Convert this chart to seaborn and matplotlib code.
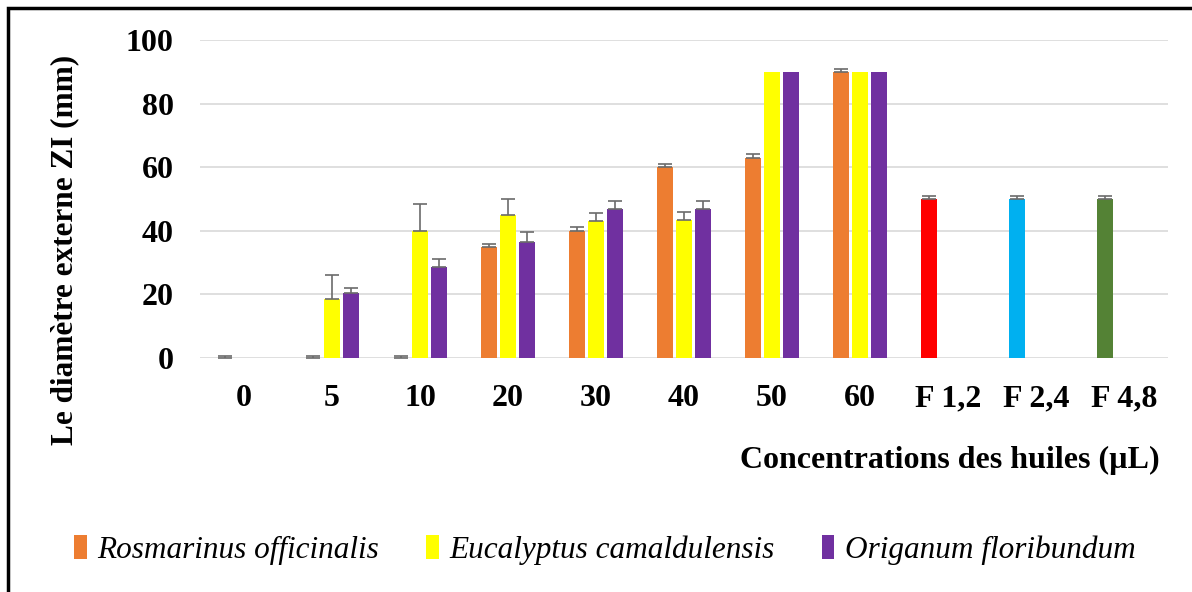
import numpy as np
import pandas as pd
import matplotlib
matplotlib.use('Agg')
import matplotlib.pyplot as plt
import seaborn as sns

# data
categories = ['0', '5', '10', '20', '30', '40', '50', '60', 'F 1,2', 'F 2,4', 'F 4,8']
concentrations = ['0', '5', '10', '20', '30', '40', '50', '60']
oils = ['Rosmarinus officinalis', 'Eucalyptus camaldulensis', 'Origanum floribundum']
rosmarinus = [0, 0, 0, 35, 40, 60, 63, 90]
rosmarinus_err = [0.6, 0.6, 0.6, 1, 1.1, 1, 1.1, 1]
eucalyptus = [0, 18.5, 40, 45, 43, 43.3, 90, 90]
eucalyptus_err = [0, 7.5, 8.4, 5, 2.7, 2.6, 0, 0]
origanum = [0, 20.3, 28.5, 36.6, 46.7, 46.7, 90, 90]
origanum_err = [0, 1.6, 2.6, 3, 2.6, 2.6, 0, 0]
controls = ['F 1,2', 'F 2,4', 'F 4,8']
control_vals = [50, 50, 50]
control_err = [1, 1, 1]

oil_colors = ['#ED7D31', '#FFFF00', '#7030A0']
control_colors = ['#FF0000', '#00B0F0', '#548235']

# long table, controls share the first slot like in the original excel chart
rows = []
for oil, vals, errs in zip(oils, [rosmarinus, eucalyptus, origanum],
                           [rosmarinus_err, eucalyptus_err, origanum_err]):
    for c, v, e in zip(concentrations, vals, errs):
        rows.append((c, oil, v, e))
for c, v, e in zip(controls, control_vals, control_err):
    rows.append((c, oils[0], v, e))
df = pd.DataFrame(rows, columns=['conc', 'huile', 'val', 'err'])
err_lookup = {(r.conc, r.huile): r.err for r in df.itertuples()}

sns.set_theme(style='white')
plt.rcParams['font.family'] = ['Liberation Serif', 'DejaVu Serif']
plt.rcParams['text.color'] = 'black'
plt.rcParams['xtick.color'] = 'black'
plt.rcParams['ytick.color'] = 'black'

fig = plt.figure(figsize=(11.92, 5.92), dpi=100)
ax = fig.add_axes([200/1192, 1-358/592, 968/1192, 318/592])

sns.barplot(data=df, x='conc', y='val', hue='huile', order=categories,
            hue_order=oils, palette=oil_colors, saturation=1, errorbar=None,
            width=0.65, gap=0.15, linewidth=0, ax=ax)

# recolor controls + plus-only error bars
bar_containers = list(ax.containers)
for i, cont in enumerate(bar_containers):
    for bar in cont:
        if bar is None:
            continue
        h = bar.get_height()
        if np.isnan(h):
            continue
        xc = bar.get_x() + bar.get_width()/2
        k = int(round(xc))
        cat = categories[k]
        if i == 0 and cat in controls:
            bar.set_facecolor(control_colors[controls.index(cat)])
        e = err_lookup.get((cat, oils[i]), 0)
        if e > 0:
            ax.errorbar(xc, h, yerr=[[0], [e]], fmt='none', ecolor='#6b6b6b',
                        elinewidth=1.2, capsize=5, capthick=1.2, zorder=3)

ax.set_ylim(0, 100)
ax.set_xlim(-0.5, len(categories)-0.5)
ax.set_yticks([0, 20, 40, 60, 80, 100])
ax.yaxis.grid(True, color='#d9d9d9', linewidth=1.2)
ax.set_axisbelow(True)
for s in ax.spines.values():
    s.set_visible(False)
ax.tick_params(axis='both', length=0, labelsize=23)
ax.tick_params(axis='y', pad=19)
ax.tick_params(axis='x', pad=19)
for lab in ax.get_xticklabels() + ax.get_yticklabels():
    lab.set_fontweight('bold')
ax.set_xlabel('')
ax.set_ylabel('')

fig.text(1160/1192, 1-460/592, 'Concentrations des huiles (µL)', ha='right',
         va='center', fontsize=23, fontweight='bold')
fig.text(65/1192, 1-250/592, 'Le diamètre externe ZI (mm)', rotation=90,
         ha='center', va='center', fontsize=22.5, fontweight='bold')

handles, labels = ax.get_legend_handles_labels()
ax.legend_.remove()
fig.legend(handles, labels, loc='center', bbox_to_anchor=(605/1192, 1-550/592),
           ncol=3, frameon=False, prop={'style': 'italic', 'size': 22.5},
           handlelength=0.4, handleheight=0.8, handletextpad=0.35, columnspacing=1.5)

# frame around the figure (only top/left visible in the picture)
fig.add_artist(plt.Rectangle((8/1192, -0.1), 1.2, 1-8/592+0.1, transform=fig.transFigure,
                             fill=False, edgecolor='black', linewidth=2.5))

fig.savefig('out.png', dpi=100, facecolor='white')
